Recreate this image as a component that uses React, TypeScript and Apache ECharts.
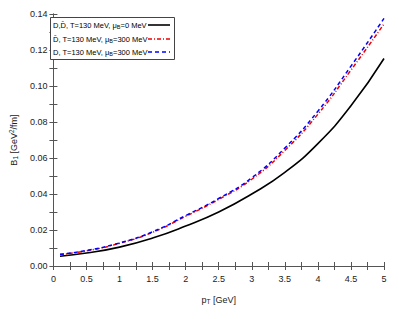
import React, { useEffect, useRef } from "react";
import * as echarts from "echarts";

const pT = [0.1, 0.5, 1, 1.5, 2, 2.5, 3, 3.5, 4, 4.5, 5];
const bothMu0 = [0.0054, 0.0072, 0.0105, 0.0155, 0.0222, 0.03, 0.04, 0.052, 0.068, 0.089, 0.1153];
const dbarMu300 = [0.0064, 0.0084, 0.0126, 0.0187, 0.0276, 0.037, 0.0482, 0.0642, 0.0843, 0.1088, 0.1345];
const dMu300 = [0.0065, 0.0086, 0.0128, 0.019, 0.028, 0.0375, 0.049, 0.0655, 0.086, 0.111, 0.1376];

const legendLabels = [
  "{n|D,D\u0304, T=130 MeV, \u03bc}{s|B}{n|=0 MeV}",
  "{n|D\u0304, T=130 MeV, \u03bc}{s|B}{n|=300 MeV}",
  "{n|D, T=130 MeV, \u03bc}{s|B}{n|=300 MeV}",
];

const FONT = "Liberation Sans, Arial, Helvetica, sans-serif";

export default function App() {
  const ref = useRef<HTMLDivElement>(null);
  useEffect(() => {
    if (!ref.current) return;
    const chart = echarts.init(ref.current, undefined, { renderer: "svg" });
    const axisColor = "#555";
    const mk = (ys: number[]) => pT.map((x, i) => [x, ys[i]]);
    const lineStyles = [
      { color: "#000000", width: 1.6, type: "solid" as any },
      { color: "#ee0000", width: 1.5, type: [4, 2, 1, 2] as any },
      { color: "#0000ff", width: 1.5, type: [4, 3] as any },
    ];
    const legendRows = [25, 39, 52];
    const rich = {
      n: { fontSize: 7.5, fontFamily: FONT, color: "#000" },
      s: { fontSize: 5.5, fontFamily: FONT, color: "#000", verticalAlign: "bottom", padding: [4, 0, 0, 0] },
    };
    const graphic: any[] = [
      {
        type: "rect",
        shape: { x: 50.5, y: 17.5, width: 124, height: 42 },
        style: { fill: "#fff", stroke: "#444", lineWidth: 1 },
        z: 100,
      },
    ];
    legendRows.forEach((y, i) => {
      graphic.push({
        type: "text",
        x: 53,
        y: y,
        z: 101,
        style: { text: legendLabels[i], rich, verticalAlign: "middle", align: "left" },
      });
      graphic.push({
        type: "line",
        z: 101,
        shape: { x1: 148, y1: y, x2: 170, y2: y },
        style: { stroke: lineStyles[i].color, lineWidth: lineStyles[i].width, lineDash: lineStyles[i].type === "solid" ? null : lineStyles[i].type },
      });
    });
    const common = {
      type: "value" as const,
      axisLine: { show: true, lineStyle: { color: axisColor, width: 1 } },
      splitLine: { show: false },
    };
    chart.setOption({
      animation: false,
      backgroundColor: "#fff",
      grid: { left: 46, right: 15, top: 14, bottom: 53 },
      xAxis: [
        {
          ...common,
          position: "bottom",
          min: 0,
          max: 5,
          interval: 0.5,
          axisTick: { show: true, inside: true, length: 4, lineStyle: { color: axisColor } },
          minorTick: { show: true, splitNumber: 2, length: 4, lineStyle: { color: axisColor } },
          axisLabel: { color: "#222", fontSize: 9, fontFamily: FONT, margin: 8 },
          name: "{n|p}{s|T}{n| [GeV]}",
          nameLocation: "middle",
          nameGap: 28,
          nameTextStyle: {
            rich: {
              n: { fontSize: 9, fontFamily: FONT, color: "#222" },
              s: { fontSize: 6.5, fontFamily: FONT, color: "#222", padding: [4, 0, 0, 0] },
            },
          },
        },
        {
          ...common,
          position: "top",
          min: 0,
          max: 5,
          interval: 0.5,
          axisTick: { show: true, inside: true, length: 4, lineStyle: { color: axisColor } },
          minorTick: { show: true, splitNumber: 2, length: 4, lineStyle: { color: axisColor } },
          axisLabel: { show: false },
        },
      ],
      yAxis: [
        {
          ...common,
          position: "left",
          min: 0,
          max: 0.14,
          interval: 0.02,
          axisTick: { show: true, inside: true, length: 4, lineStyle: { color: axisColor } },
          minorTick: { show: true, splitNumber: 2, length: 4, lineStyle: { color: axisColor } },
          axisLabel: { color: "#222", fontSize: 9, fontFamily: FONT, margin: 6, formatter: (v: number) => v.toFixed(2) },
          name: "{n|B}{s|1}{n| [GeV}{p|2}{n|/fm]}",
          nameLocation: "middle",
          nameGap: 30,
          nameRotate: 90,
          nameTextStyle: {
            rich: {
              n: { fontSize: 9, fontFamily: FONT, color: "#222" },
              s: { fontSize: 6.5, fontFamily: FONT, color: "#222", padding: [4, 0, 0, 0] },
              p: { fontSize: 6.5, fontFamily: FONT, color: "#222", padding: [0, 0, 4, 0] },
            },
          },
        },
        {
          ...common,
          position: "right",
          min: 0,
          max: 0.14,
          interval: 0.02,
          axisTick: { show: true, inside: true, length: 4, lineStyle: { color: axisColor } },
          minorTick: { show: true, splitNumber: 2, length: 4, lineStyle: { color: axisColor } },
          axisLabel: { show: false },
        },
      ],
      series: [
        { type: "line", name: "D,Dbar mu0", data: mk(bothMu0), smooth: true, symbol: "none", lineStyle: lineStyles[0], z: 3 },
        { type: "line", name: "Dbar mu300", data: mk(dbarMu300), smooth: true, symbol: "none", lineStyle: lineStyles[1], z: 4 },
        { type: "line", name: "D mu300", data: mk(dMu300), smooth: true, symbol: "none", lineStyle: lineStyles[2], z: 5 },
      ],
      graphic,
    });
    return () => chart.dispose();
  }, []);
  return <div ref={ref} style={{ position: "fixed", left: 0, top: 0, width: 399, height: 319 }} />;
}
